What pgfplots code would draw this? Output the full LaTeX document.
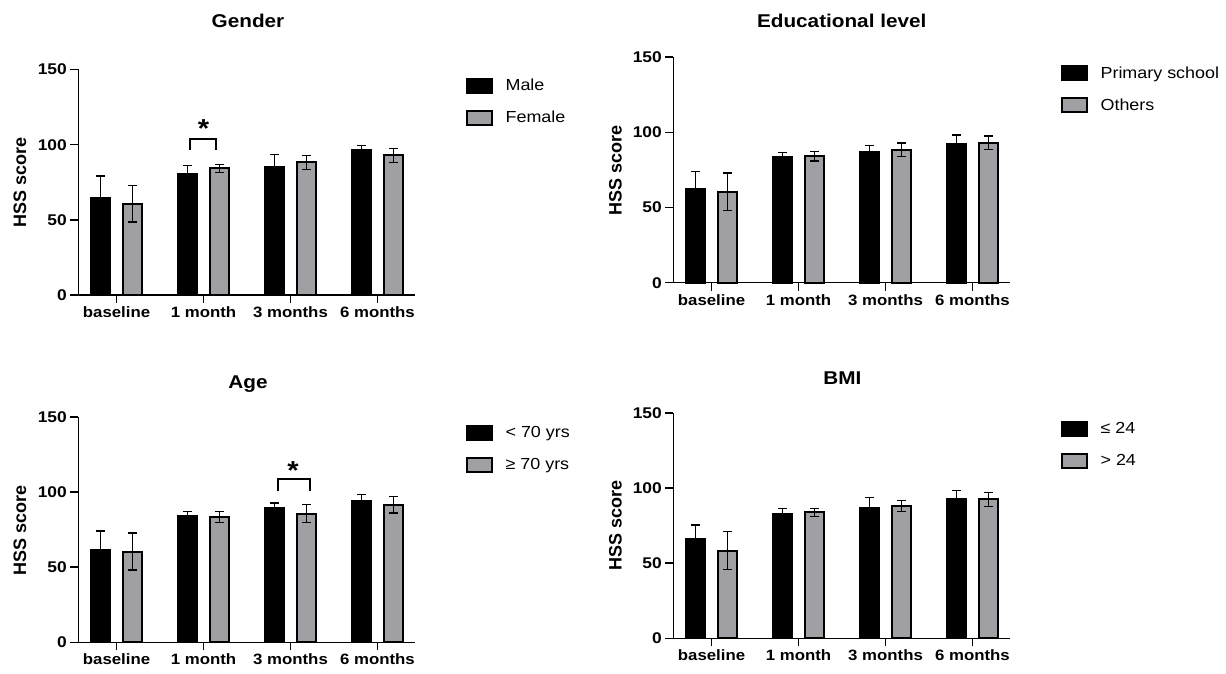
\documentclass[border=0pt]{standalone}
\usepackage{pgfplots}
\usepackage{pgfplotstable}
\pgfplotsset{compat=1.18}
\usepackage{fontspec}
\setmainfont{Liberation Sans}[FakeStretch=1.12]
\newfontfamily\ylabfont{Liberation Sans}
\definecolor{barg}{RGB}{160,160,164}

% columns: x, mean1, sd1, mean2, sd2
\pgfplotstableread{
x m1 s1 m2 s2
0 64.7 14.4 60.7 12.1
1 80.4 5.6 84.2 2.7
2 84.9 8.6 88.2 4.6
3 96.4 2.9 92.8 4.7
}\gender
\pgfplotstableread{
x m1 s1 m2 s2
0 62.1 12.0 60.4 12.6
1 83.4 3.4 84.1 3.1
2 86.8 4.4 88.5 4.4
3 92.5 5.8 93.2 4.4
}\edu
\pgfplotstableread{
x m1 s1 m2 s2
0 61.1 12.9 60.4 12.3
1 84.0 3.1 83.3 3.5
2 89.3 3.4 85.6 6.1
3 94.0 4.4 91.6 5.5
}\age
\pgfplotstableread{
x m1 s1 m2 s2
0 66.0 9.3 58.3 12.7
1 82.6 3.6 83.8 2.7
2 86.4 7.3 88.0 3.5
3 92.8 5.4 92.4 4.6
}\bmi

\pgfplotsset{
  hss/.style={
    scale only axis, width=336.6pt, height=225.5pt,
    xmin=-0.44, xmax=3.43, ymin=0, ymax=150,
    axis lines=left, axis line style={-, line width=1.6pt},
    xtick={0,1,2,3}, xticklabels={baseline,1 month,3 months,6 months},
    ytick={0,50,100,150},
    tick align=outside, major tick length=8pt,
    tick style={line width=1.6pt, black},
    xticklabel style={font=\fontsize{15}{17}\selectfont\bfseries},
    yticklabel style={font=\fontsize{15.5}{17}\selectfont\bfseries},
    /pgf/number format/assume math mode=true,
    clip=false,
    legend style={at={(1.15,0.965)}, anchor=north west, draw=none, fill=none,
      inner sep=0pt, row sep=16pt, font=\fontsize{16}{18}\selectfont,
      nodes={inner sep=0pt, anchor=west},
      /tikz/every odd column/.append style={column sep=13pt}},
    legend cell align=left,
    legend image code/.code={\draw[#1] (0pt,-7pt) rectangle (25pt,7pt);},
  },
  bk/.style={ybar, bar width=19pt, bar shift=-16pt, fill=black, draw=black, line width=2pt,
    error bars/y dir=both, error bars/y explicit,
    error bars/error mark=|,
    error bars/error bar style={line width=1.3pt, black, xshift=-16pt},
    error bars/error mark options={mark size=4.5pt, line width=1.3pt, black, draw=black}},
  gy/.style={ybar, bar width=19pt, bar shift=16pt, fill=barg, draw=black, line width=2pt,
    error bars/y dir=both, error bars/y explicit,
    error bars/error mark=|,
    error bars/error bar style={line width=1.3pt, black, xshift=16pt},
    error bars/error mark options={mark size=4.5pt, line width=1.3pt, black, draw=black}},
  brk/.style={sharp plot, mark=none, line width=2pt, black, forget plot},
}

\begin{document}
\begin{tikzpicture}
\useasboundingbox (0pt,0pt) rectangle (1226pt,673pt);

% Gender
\begin{axis}[hss, at={(78.3pt,378pt)}, anchor=south west]
\addplot[bk] table[x=x, y=m1, y error=s1] {\gender};
\addlegendentry{Male}
\addplot[gy] table[x=x, y=m2, y error=s2] {\gender};
\addlegendentry{Female}
\addplot[brk] coordinates {(0.84,96.3) (0.84,103.5) (1.14,103.5) (1.14,96.3)};
\node[anchor=north, inner sep=0pt, font=\fontsize{26}{26}\selectfont\bfseries] at (axis cs:1.0,116.5) {*};
\end{axis}

% Educational level
\begin{axis}[hss, at={(673.3pt,390.3pt)}, anchor=south west]
\addplot[bk] table[x=x, y=m1, y error=s1] {\edu};
\addlegendentry{Primary school}
\addplot[gy] table[x=x, y=m2, y error=s2] {\edu};
\addlegendentry{Others}
\end{axis}

% Age
\begin{axis}[hss, at={(78.3pt,30.7pt)}, anchor=south west]
\addplot[bk] table[x=x, y=m1, y error=s1] {\age};
\addlegendentry{< 70 yrs}
\addplot[gy] table[x=x, y=m2, y error=s2] {\age};
\addlegendentry{≥ 70 yrs}
\addplot[brk] coordinates {(1.855,100.4) (1.855,108.7) (2.22,108.7) (2.22,100.4)};
\node[anchor=north, inner sep=0pt, font=\fontsize{26}{26}\selectfont\bfseries] at (axis cs:2.03,120.4) {*};
\end{axis}

% BMI
\begin{axis}[hss, at={(673.3pt,34.7pt)}, anchor=south west]
\addplot[bk] table[x=x, y=m1, y error=s1] {\bmi};
\addlegendentry{≤ 24}
\addplot[gy] table[x=x, y=m2, y error=s2] {\bmi};
\addlegendentry{> 24}
\end{axis}

% titles
\node[anchor=base, font=\fontsize{18.5}{20}\selectfont\bfseries] at (248pt,645.3pt) {Gender};
\node[anchor=base, font=\fontsize{18.5}{20}\selectfont\bfseries] at (841.7pt,645.3pt) {Educational level};
\node[anchor=base, font=\fontsize{18.5}{20}\selectfont\bfseries] at (248pt,284.7pt) {Age};
\node[anchor=base, font=\fontsize{18.5}{20}\selectfont\bfseries] at (842.3pt,288.7pt) {BMI};

% y labels
\node[rotate=90, inner sep=0pt, font=\ylabfont\fontsize{18}{20}\selectfont\bfseries] at (20pt,490.5pt) {HSS score};
\node[rotate=90, inner sep=0pt, font=\ylabfont\fontsize{18}{20}\selectfont\bfseries] at (615.5pt,503pt) {HSS score};
\node[rotate=90, inner sep=0pt, font=\ylabfont\fontsize{18}{20}\selectfont\bfseries] at (20pt,143pt) {HSS score};
\node[rotate=90, inner sep=0pt, font=\ylabfont\fontsize{18}{20}\selectfont\bfseries] at (615.5pt,147.2pt) {HSS score};
\end{tikzpicture}
\end{document}
